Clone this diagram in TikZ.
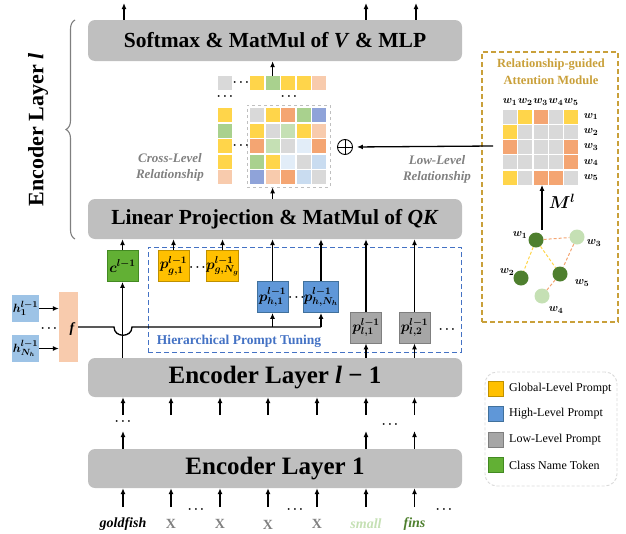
\documentclass[tikz,border=0pt]{standalone}
\usepackage{fontspec}
\setmainfont{Liberation Serif}
\usetikzlibrary{arrows.meta,decorations.pathreplacing,calc}
\definecolor{layerg}{HTML}{BFBFBF}
\definecolor{cY}{HTML}{FFD54A}
\definecolor{cO}{HTML}{F4A572}
\definecolor{cG}{HTML}{A9D18E}
\definecolor{cLG}{HTML}{C5E0B4}
\definecolor{cP}{HTML}{F8CBAD}
\definecolor{cGr}{HTML}{D9D9D9}
\definecolor{cBP}{HTML}{8FA3D9}
\definecolor{cLB}{HTML}{C9DCF0}
\definecolor{cVLB}{HTML}{E2EDF8}
\definecolor{gold}{HTML}{C9A03A}
\definecolor{hblue}{HTML}{4472C4}
\definecolor{pgold}{HTML}{FFC000}
\definecolor{pgoldb}{HTML}{BF9000}
\definecolor{pblue}{HTML}{5F97D8}
\definecolor{pblueb}{HTML}{41719C}
\definecolor{pgray}{HTML}{A6A6A6}
\definecolor{pgrayb}{HTML}{7F7F7F}
\definecolor{pgreen}{HTML}{62B034}
\definecolor{pgreenb}{HTML}{438A22}
\definecolor{hbox}{HTML}{9DC3E6}
\definecolor{dkgreen}{HTML}{4E7F2E}
\definecolor{txtgray}{HTML}{808080}
\begin{document}
\begin{tikzpicture}[x=1pt,y=-1pt,
  layer/.style={fill=layerg,rounded corners=7pt,minimum width=374pt,inner sep=0pt,font=\bfseries\fontsize{21.5}{24}\selectfont},
  arr/.style={-{Latex[length=6pt,width=5pt]},line width=1.3pt},
  cell/.style={minimum size=14pt,inner sep=0pt},
  pbox/.style={minimum width=31pt,minimum height=31pt,inner sep=0pt,line width=0.8pt,font=\boldmath\fontsize{14}{15}\selectfont},
  dots/.style={inner sep=0pt,font=\boldmath\fontsize{12}{12}\selectfont},
  wlab/.style={inner sep=0pt,font=\boldmath\fontsize{11}{12}\selectfont},
  gdark/.style={circle,fill=dkgreen,minimum size=15pt,inner sep=0pt},
  glight/.style={circle,fill=cLG,minimum size=15pt,inner sep=0pt},
  gedge/.style={dash pattern=on 3pt off 2pt,line width=1pt},
  legsq/.style={minimum size=15pt,inner sep=0pt,line width=0.8pt},
  legtxt/.style={anchor=west,inner sep=0pt,font=\fontsize{12}{14}\selectfont},
  tok/.style={inner sep=0pt,font=\bfseries\itshape\fontsize{14}{16}\selectfont}]
\useasboundingbox (0,0) rectangle (626,533);

% main layer boxes
\node[layer,minimum height=41pt] (soft) at (275,40.5) {Softmax \& MatMul of \textit{V} \& MLP};
\node[layer,minimum height=40pt] (lin) at (275,219) {Linear Projection \& MatMul of \textit{QK}};
\node[layer,minimum height=39pt,font=\bfseries\fontsize{25}{28}\selectfont] (elm) at (275,377.5) {Encoder Layer \textit{l} − 1};
\node[layer,minimum height=39pt,font=\bfseries\fontsize{25}{28}\selectfont] (el1) at (275,468.5) {Encoder Layer 1};

% brace and layer label
\coordinate (brb) at (75,239);
\coordinate (brt) at (75,20);
\draw[decorate,decoration={brace,amplitude=9pt},draw=pgrayb,line width=1.1pt] (brb) -- (brt);
\node[rotate=90,inner sep=0pt,font=\bfseries\fontsize{22}{26}\selectfont] (enclab) at (38,130) {Encoder Layer \textit{l}};

% top output arrows
\foreach \x [count=\i] in {124,366,416} {
  \coordinate (top\i) at (\x,3);
  \draw[arr] (soft.north -| top\i) -- (top\i);
}

% cross-level matrix
\foreach \rowc [count=\r] in {{cGr,cY,cO,cG,cBP},{cY,cGr,cLG,cY,cP},{cO,cLG,cGr,cVLB,cO},{cG,cY,cVLB,cGr,cLB},{cBP,cP,cO,cLB,cGr}} {
  \foreach \cc [count=\c] in \rowc {
    \node[cell,fill=\cc] (m-\r-\c) at ({257+(\c-1)*15.6},{115+(\r-1)*15.6}) {};
  }
}
\node[draw=layerg,dashed,line width=0.7pt,minimum width=83pt,minimum height=82pt,inner sep=0pt] (mbox) at (288.5,146) {};
\foreach \cc [count=\c] in {cY,cG,cY,cY,cP} {
  \node[cell,fill=\cc] (t-\c) at ({257+(\c-1)*15.6},83) {};
}
\node[cell,fill=cGr] (t-0) at (225,83) {};
\foreach \cc [count=\r] in {cY,cG,cY,cY,cP} {
  \node[cell,fill=\cc] (l-\r) at (225,{115+(\r-1)*15.6}) {};
}
\node[dots] (d1) at (241,83) {$\cdots$};
\node[dots] (d2) at (225,97) {$\cdots$};
\node[dots] (d3) at (289,97) {$\cdots$};
\node[dots] (d4) at (241,146) {$\cdots$};
\draw[arr] (t-2.north) -- (t-2.north |- soft.south);
\draw[arr] (m-5-2.south |- lin.north) -- (mbox.south -| m-5-2.south);

\node[circle,draw,line width=0.9pt,minimum size=15pt,inner sep=0pt] (oplus) at (345,147) {};
\draw[line width=0.9pt] (oplus.north) -- (oplus.south) (oplus.west) -- (oplus.east);

\node[align=center,inner sep=0pt,text=txtgray,font=\bfseries\itshape\fontsize{13}{16}\selectfont] (cross) at (170,167) {Cross-Level\\Relationship};
\node[align=center,inner sep=0pt,text=txtgray,font=\bfseries\itshape\fontsize{13}{16}\selectfont] (lowl) at (437,169) {Low-Level\\Relationship};

% relationship module
\node[draw=gold,dash pattern=on 5pt off 3pt,line width=1.1pt,minimum width=136pt,minimum height=270pt,inner sep=0pt] (mod) at (550,187) {};
\node[align=center,inner sep=0pt,text=gold,font=\bfseries\fontsize{12.5}{17}\selectfont] (modt) at (551,72) {Relationship-guided\\Attention Module};
\foreach \rowc [count=\r] in {{cGr,cY,cO,cGr,cY},{cY,cGr,cGr,cGr,cGr},{cO,cGr,cGr,cGr,cO},{cGr,cGr,cGr,cGr,cO},{cY,cGr,cO,cO,cGr}} {
  \foreach \cc [count=\c] in \rowc {
    \node[cell,fill=\cc] (s-\r-\c) at ({510+(\c-1)*15.3},{116.5+(\r-1)*15.3}) {};
  }
}
\foreach \c in {1,...,5} {
  \node[wlab] (cw\c) at ({510+(\c-1)*15.3},102) {$w_{\c}$};
  \node[wlab] (rw\c) at (591,{116.5+(\c-1)*15.3}) {$w_{\c}$};
}
\coordinate (lowsrc) at (493,146);
\draw[arr,shorten >=4pt] (lowsrc) -- (oplus.east);

% graph
\node[gdark] (g1) at (536,240) {};
\node[glight] (g3) at (577,237) {};
\node[gdark] (g2) at (521,278) {};
\node[gdark] (g5) at (560,274) {};
\node[glight] (g4) at (542,296) {};
\draw[gedge,draw=cO] (g1) -- (g3);
\draw[gedge,draw=cY] (g1) -- (g2);
\draw[gedge,draw=cY] (g1) -- (g5);
\draw[gedge,draw=cO] (g3) -- (g5);
\draw[gedge,draw=cO] (g5) -- (g4);
\node[wlab] (gl1) at (520,235) {$w_1$};
\node[wlab] (gl3) at (594,243) {$w_3$};
\node[wlab] (gl2) at (507,272) {$w_2$};
\node[wlab] (gl5) at (582,283) {$w_5$};
\node[wlab] (gl4) at (556,310) {$w_4$};
\coordinate (mlsrc) at (542,230);
\draw[arr] (mlsrc) -- (mlsrc |- s-5-1.south);
\node[inner sep=0pt,font=\boldmath\fontsize{18}{19}\selectfont] (ml) at (562,201) {$M^{l}$};

% hierarchical prompt tuning
\node[draw=hblue,dash pattern=on 5pt off 3pt,line width=1pt,minimum width=313pt,minimum height=105pt,inner sep=0pt] (hpt) at (304.5,299.5) {};
\node[inner sep=0pt,text=hblue,font=\bfseries\fontsize{13.5}{15}\selectfont] (hptl) at (239,341) {Hierarchical Prompt Tuning};

\node[pbox,fill=pgreen,draw=pgreenb] (cb) at (122.5,266) {$c^{l-1}$};
\node[pbox,fill=pgold,draw=pgoldb] (pg1) at (173.5,266) {$p^{l-1}_{g,1}$};
\node[pbox,fill=pgold,draw=pgoldb] (pg2) at (222.5,266) {$p^{l-1}_{g,N_g}$};
\node[pbox,fill=pblue,draw=pblueb] (ph1) at (272.5,297) {$p^{l-1}_{h,1}$};
\node[pbox,fill=pblue,draw=pblueb] (ph2) at (321,297) {$p^{l-1}_{h,N_h}$};
\node[pbox,fill=pgray,draw=pgrayb] (pl1) at (366,327.5) {$p^{l-1}_{l,1}$};
\node[pbox,fill=pgray,draw=pgrayb] (pl2) at (414.5,327.5) {$p^{l-1}_{l,2}$};
\node[dots] (dg) at (197.5,268) {$\cdots$};
\node[dots] (dh) at (296.5,298) {$\cdots$};
\node[dots] (dl) at (447,330) {$\cdots$};

\foreach \n in {cb,pg1,pg2,ph1,ph2,pl1,pl2} {
  \draw[arr] (\n.north) -- (\n.north |- lin.south);
}
\draw[arr] (elm.north -| pl1) -- (pl1.south);
\draw[arr] (elm.north -| pl2) -- (pl2.south);
\draw[arr] (elm.north -| cb) -- (cb.south);

% h boxes and f
\node[fill=hbox,minimum width=27pt,minimum height=27pt,inner sep=0pt,font=\boldmath\fontsize{12.5}{14}\selectfont] (h1) at (25.5,308.5) {$h^{l-1}_{1}$};
\node[fill=hbox,minimum width=27pt,minimum height=27pt,inner sep=0pt,font=\boldmath\fontsize{12.5}{14}\selectfont] (hn) at (25.5,348.5) {$h^{l-1}_{N_h}$};
\node[fill=cP,minimum width=19pt,minimum height=70pt,inner sep=0pt] (fb) at (68.5,327) {};
\node[inner sep=0pt,font=\bfseries\itshape\fontsize{14}{15}\selectfont] (fl) at (72,329) {f};
\node[dots] (dhh) at (49,329) {$\cdots$};
\draw[arr] (h1.east) -- (h1.east -| fb.west);
\draw[arr] (hn.east) -- (hn.east -| fb.west);
\coordinate (j1) at (272.5,327);
\coordinate (j2) at (321,327);
\coordinate (hopa) at (114,327);
\coordinate (hopb) at (132,327);
\draw[line width=1.3pt] (fb.east) -- (hopa) .. controls (114,338) and (132,338) .. (hopb) -- (j2);
\draw[arr] (j1) -- (ph1.south);
\draw[arr] (j2) -- (ph2.south);

% arrows between encoder layers
\foreach \x [count=\i] in {123,171,220,268,317,366,414.5} {
  \coordinate (u\i) at (\x,415);
  \draw[arr] (u\i) -- (u\i |- elm.south);
  \coordinate (b\i) at (\x,507);
  \draw[arr] (b\i) -- (b\i |- el1.south);
}
\foreach \x [count=\i] in {123,366,414.5} {
  \coordinate (v\i) at (\x,431);
  \draw[arr] (v\i |- el1.north) -- (v\i);
}
\node[dots] (e1) at (123,422) {$\cdots$};
\node[dots] (e2) at (390,425) {$\cdots$};

% tokens
\node[tok] (w1) at (123,524) {goldfish};
\node[tok,font=\bfseries\fontsize{14}{15}\selectfont,text=txtgray] (x1) at (171,524) {X};
\node[tok,font=\bfseries\fontsize{14}{15}\selectfont,text=txtgray] (x2) at (220,524) {X};
\node[tok,font=\bfseries\fontsize{14}{15}\selectfont,text=txtgray] (x3) at (268,525) {X};
\node[tok,font=\bfseries\fontsize{14}{15}\selectfont,text=txtgray] (x4) at (317,524) {X};
\node[tok,text=cLG] (w2) at (366,524) {small};
\node[tok,text=dkgreen] (w3) at (414.5,524) {fins};
\node[dots] (f1) at (196,510) {$\cdots$};
\node[dots] (f2) at (295,510) {$\cdots$};
\node[dots] (f3) at (444,510) {$\cdots$};

% legend
\node[draw=cGr,dash pattern=on 3pt off 2pt,line width=0.9pt,rounded corners=12pt,minimum width=132pt,minimum height=114pt,inner sep=0pt] (leg) at (551,429) {};
\node[legsq,fill=pgold,draw=pgoldb] (lg1) at (495.5,389) {};
\node[legsq,fill=pblue,draw=pblueb] (lg2) at (495.5,414) {};
\node[legsq,fill=pgray,draw=pgrayb] (lg3) at (495.5,440) {};
\node[legsq,fill=pgreen,draw=pgreenb] (lg4) at (495.5,465) {};
\node[legtxt] (lt1) at (509,389) {Global-Level Prompt};
\node[legtxt] (lt2) at (509,414) {High-Level Prompt};
\node[legtxt] (lt3) at (509,440) {Low-Level Prompt};
\node[legtxt] (lt4) at (509,465) {Class Name Token};
\end{tikzpicture}
\end{document}
